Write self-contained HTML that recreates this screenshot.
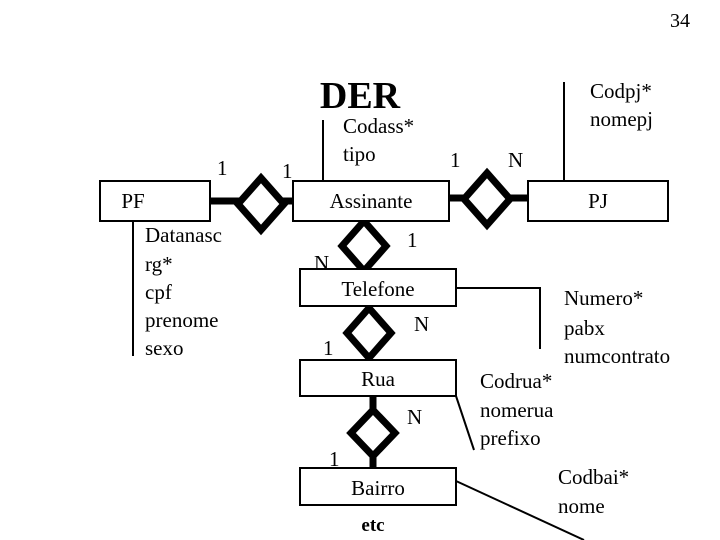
<!DOCTYPE html>
<html><head><meta charset="utf-8"><style>
html,body{margin:0;padding:0;background:#fff}
svg{display:block}
text{font-family:"Liberation Serif",serif;font-size:21px;fill:#000}
</style></head><body>
<svg width="720" height="540" viewBox="0 0 720 540" xmlns="http://www.w3.org/2000/svg">
<text x="690" y="27" text-anchor="end" style="font-size:20px">34</text>
<text x="360" y="108" text-anchor="middle" style="font-size:38px;font-weight:bold">DER</text>
<!-- attribute lines -->
<line x1="323" y1="120" x2="323" y2="181" stroke="#000" stroke-width="2"/>
<line x1="564" y1="82" x2="564" y2="181" stroke="#000" stroke-width="2"/>
<line x1="133" y1="222" x2="133" y2="356" stroke="#000" stroke-width="2"/>
<polyline points="450,288 540,288 540,349" fill="none" stroke="#000" stroke-width="2"/>
<line x1="456" y1="396" x2="474" y2="450" stroke="#000" stroke-width="2"/>
<line x1="456" y1="481" x2="584" y2="540" stroke="#000" stroke-width="2"/>
<!-- thick connectors -->
<g stroke="#000" stroke-width="7">
<line x1="210" y1="201" x2="293" y2="201"/>
<line x1="449" y1="198" x2="528" y2="198"/>
<line x1="364" y1="221" x2="364" y2="269"/>
<line x1="369" y1="306" x2="369" y2="360"/>
<line x1="373" y1="396" x2="373" y2="468"/>
</g>
<!-- diamonds -->
<g fill="#fff" stroke="#000" stroke-width="7">
<polygon points="261,178 284,204 261,230 238,204"/>
<polygon points="487,173 510,199 487,225 464,199"/>
<polygon points="364,221 386,246 364,271 342,246"/>
<polygon points="369,308 391,333 369,358 347,333"/>
<polygon points="373,410 395,433 373,456 351,433"/>
</g>
<!-- entities -->
<g fill="#fff" stroke="#000" stroke-width="2">
<rect x="100" y="181" width="110" height="40"/>
<rect x="293" y="181" width="156" height="40"/>
<rect x="528" y="181" width="140" height="40"/>
<rect x="300" y="269" width="156" height="37"/>
<rect x="300" y="360" width="156" height="36"/>
<rect x="300" y="468" width="156" height="37"/>
</g>
<text x="133" y="208" text-anchor="middle">PF</text>
<text x="371" y="208" text-anchor="middle">Assinante</text>
<text x="598" y="208" text-anchor="middle">PJ</text>
<text x="378" y="296" text-anchor="middle">Telefone</text>
<text x="378" y="386" text-anchor="middle">Rua</text>
<text x="378" y="495" text-anchor="middle">Bairro</text>
<text x="373" y="531" text-anchor="middle" style="font-weight:bold;font-size:19px">etc</text>
<!-- cardinalities -->
<text x="217" y="175">1</text>
<text x="282" y="178">1</text>
<text x="450" y="167">1</text>
<text x="508" y="167">N</text>
<text x="407" y="247">1</text>
<text x="314" y="270">N</text>
<text x="414" y="331">N</text>
<text x="323" y="355">1</text>
<text x="407" y="424">N</text>
<text x="329" y="466">1</text>
<!-- attributes -->
<text x="343" y="133">Codass*</text>
<text x="343" y="161">tipo</text>
<text x="590" y="98">Codpj*</text>
<text x="590" y="126">nomepj</text>
<text x="145" y="242">Datanasc</text>
<text x="145" y="271">rg*</text>
<text x="145" y="299">cpf</text>
<text x="145" y="327">prenome</text>
<text x="145" y="355">sexo</text>
<text x="564" y="305">Numero*</text>
<text x="564" y="335">pabx</text>
<text x="564" y="363">numcontrato</text>
<text x="480" y="388">Codrua*</text>
<text x="480" y="417">nomerua</text>
<text x="480" y="445">prefixo</text>
<text x="558" y="484">Codbai*</text>
<text x="558" y="513">nome</text>
</svg>
</body></html>
